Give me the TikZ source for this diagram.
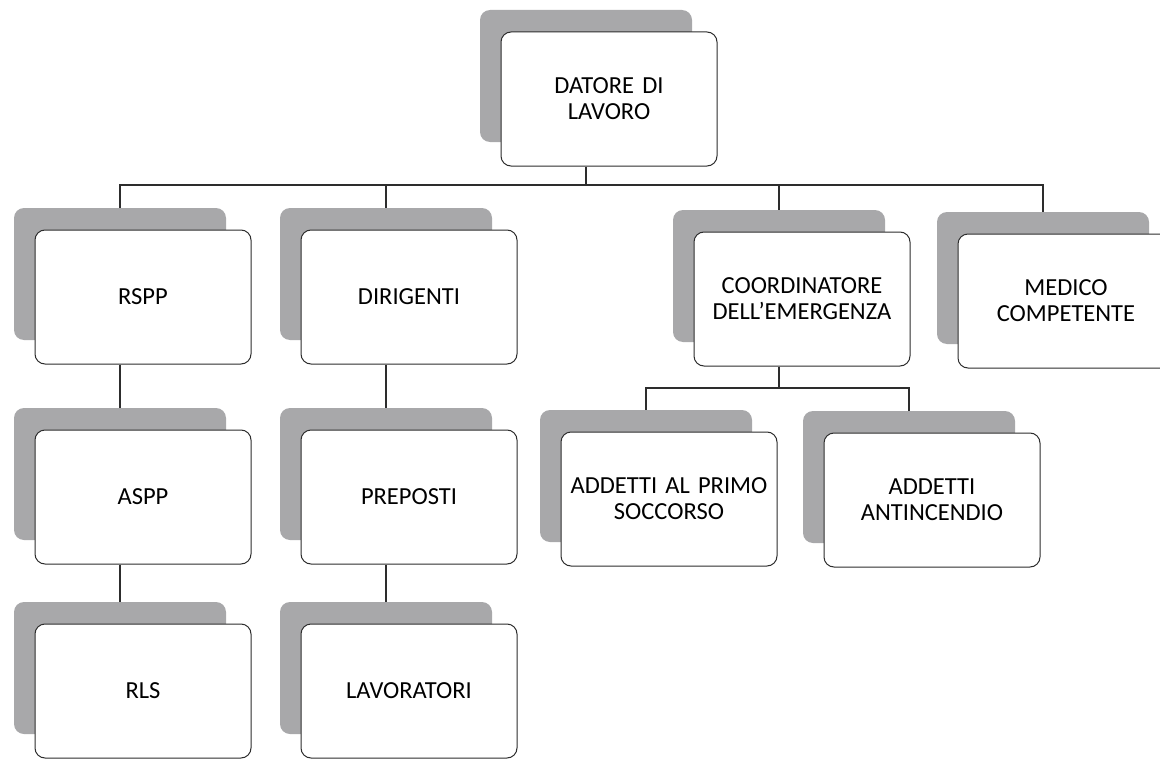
\documentclass[tikz,border=0pt]{standalone}
\usepackage{fontspec}
\setmainfont{Carlito}
\definecolor{backgray}{RGB}{168,168,170}
\definecolor{edge}{RGB}{45,45,45}
\tikzset{
  backbox/.style={rectangle, rounded corners=10pt, fill=backgray, draw=none,
    minimum width=212pt, minimum height=132pt, inner sep=0pt},
  frontbox/.style={rectangle, rounded corners=10pt, fill=white, draw=edge, line width=1pt,
    minimum width=216pt, minimum height=134pt, inner sep=0pt,
    text width=210pt, align=center, font=\fontsize{24.5}{26}\selectfont},
  conn/.style={draw=edge, line width=1.3pt}
}
\begin{document}
\begin{tikzpicture}[x=1pt,y=-1pt]
\useasboundingbox (0,0) rectangle (1160,760);
\clip (0,0) rectangle (1160,760);
\fill[white] (0,0) rectangle (1160,760);
% back boxes (centre = left+106, top+66); front boxes (centre = left+129, top+89)
\node[backbox] (DatB) at (586,76) {};
\node[frontbox] (Dat) at (609,99) {DATORE DI\\LAVORO};
\node[backbox] (RSPPb) at (120,274) {};
\node[frontbox] (RSPP) at (143,297) {RSPP};
\node[backbox] (DIRb) at (386,274) {};
\node[frontbox] (DIR) at (409,297) {DIRIGENTI};
\node[backbox] (COOb) at (779,276) {};
\node[frontbox] (COO) at (802,299) {COORDINATORE\\DELL'EMERGENZA};
\node[backbox] (MEDb) at (1043,278) {};
\node[frontbox] (MED) at (1066,301) {MEDICO\\COMPETENTE};
\node[backbox] (ASPPb) at (120,474) {};
\node[frontbox] (ASPP) at (143,497) {ASPP};
\node[backbox] (PREb) at (386,474) {};
\node[frontbox] (PRE) at (409,497) {PREPOSTI};
\node[backbox] (PRIb) at (646,476) {};
\node[frontbox] (PRI) at (669,499) {ADDETTI AL PRIMO\\SOCCORSO};
\node[backbox] (ANTb) at (909,477) {};
\node[frontbox] (ANT) at (932,500) {ADDETTI\\ANTINCENDIO};
\node[backbox] (RLSb) at (120,668) {};
\node[frontbox] (RLS) at (143,691) {RLS};
\node[backbox] (LAVb) at (386,668) {};
\node[frontbox] (LAV) at (409,691) {LAVORATORI};
% connectors
\coordinate (bus) at (0,185);
\coordinate (bus2) at (0,388);
\draw[conn] (Dat.south -| DatB) -- (bus -| DatB);
\draw[conn] (RSPPb.north) -- (bus -| RSPPb) -- (bus -| MEDb) -- (MEDb.north);
\draw[conn] (DIRb.north) -- (bus -| DIRb);
\draw[conn] (COOb.north) -- (bus -| COOb);
\draw[conn] (RSPP.south -| RSPPb) -- (ASPPb.north);
\draw[conn] (ASPP.south -| ASPPb) -- (RLSb.north);
\draw[conn] (DIR.south -| DIRb) -- (PREb.north);
\draw[conn] (PRE.south -| PREb) -- (LAVb.north);
\draw[conn] (COO.south -| COOb) -- (bus2 -| COOb);
\draw[conn] (PRIb.north) -- (bus2 -| PRIb) -- (bus2 -| ANTb) -- (ANTb.north);
\end{tikzpicture}
\end{document}
